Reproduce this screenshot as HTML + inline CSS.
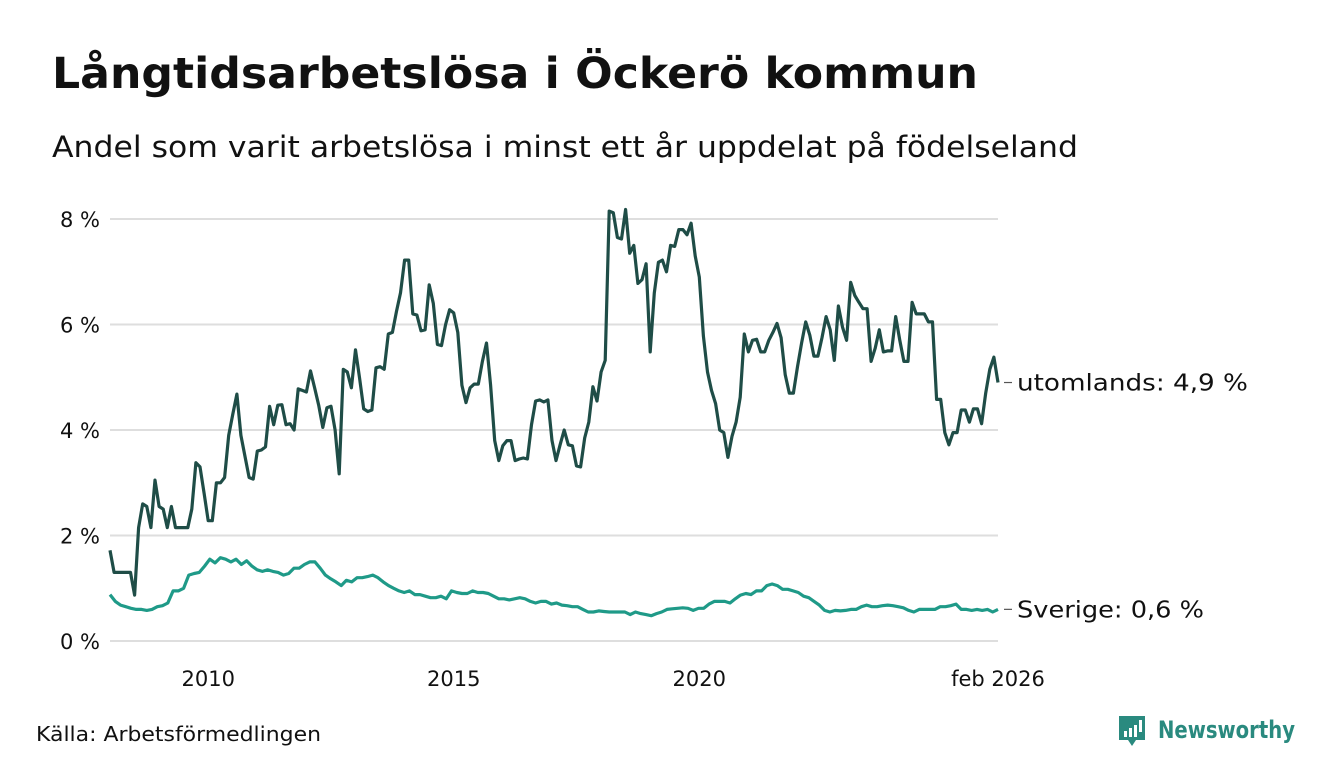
<!DOCTYPE html>
<html><head><meta charset="utf-8">
<style>
body{margin:0;background:#fff;font-family:"DejaVu Sans","Liberation Sans",sans-serif;}
#wrap{position:relative;width:1340px;height:780px;overflow:hidden;background:#fff;}
</style></head>
<body>
<div id="wrap">
<svg id="chart" width="1340" height="780" font-family="DejaVu Sans, Liberation Sans, sans-serif">
<text x="52" y="88" font-size="43" font-weight="bold" fill="#111" textLength="926" lengthAdjust="spacingAndGlyphs">Långtidsarbetslösa i Öckerö kommun</text>
<text x="52" y="157" font-size="29" fill="#111" textLength="1026" lengthAdjust="spacingAndGlyphs">Andel som varit arbetslösa i minst ett år uppdelat på födelseland</text>
<g id="grid"></g>
<g id="lines"></g>
<text x="36" y="741" font-size="20" fill="#111" textLength="285" lengthAdjust="spacingAndGlyphs">Källa: Arbetsförmedlingen</text>
<g>
<path d="M1119 716 h26 v24 h-9 l-4 6 l-4 -6 h-9 z" fill="#2a8a7f"/>
<rect x="1124" y="731" width="3" height="6" fill="#fff"/>
<rect x="1129" y="728" width="3" height="9" fill="#fff"/>
<rect x="1134" y="725" width="3" height="12" fill="#fff"/>
<rect x="1139" y="720" width="3" height="12" fill="#fff"/>
<text x="1158" y="738" font-size="24" font-weight="bold" fill="#2a8a7f" textLength="137" lengthAdjust="spacingAndGlyphs">Newsworthy</text>
</g>
</svg>
</div>
<script>
const yTicks=[0,2,4,6,8];
const yTickLabels=["0 %","2 %","4 %","6 %","8 %"];
const xTickYears=[2010,2015,2020];
const xTickLabels=["2010","2015","2020"];
const startDate=2008.0;
const endDate=2026+1/12;
const endLabel="feb 2026";
const seriesNames=["utomlands","Sverige"];
const utomlands=[1.72,1.3,1.3,1.3,1.3,1.3,0.87,2.15,2.6,2.55,2.15,
3.05,2.55,2.5,2.15,2.55,2.15,2.15,2.15,2.15,2.5,3.38,3.3,2.8,2.28,2.28,3.0,3.0,3.1,3.9,4.3,4.68,3.9,3.5,3.1,3.07,3.6,3.62,3.68,4.45,4.1,4.47,4.48,4.1,4.12,4.0,4.78,4.75,4.72,5.12,4.8,4.47,4.05,4.42,4.45,4.0,3.17,5.15,5.1,4.8,5.52,4.98,4.4,4.35,4.38,5.18,5.2,5.15,5.82,5.85,6.25,6.6,7.22,7.22,6.2,6.18,5.88,5.9,6.75,6.4,5.62,5.6,6.0,6.28,6.22,5.85,4.85,4.52,4.8,4.87,4.87,5.3,5.65,4.85,3.8,3.42,3.7,3.8,3.8,3.42,3.45,3.47,3.45,4.1,4.55,4.57,4.53,4.57,3.8,3.42,3.72,4.0,3.72,3.7,3.32,3.3,3.85,4.15,4.82,4.55,5.1,5.32,8.15,8.12,7.65,7.62,8.18,7.35,7.5,6.78,6.85,7.15,5.48,6.6,7.18,7.22,7.0,7.5,7.48,7.8,7.8,7.7,7.92,7.3,6.9,5.78,5.1,4.75,4.5,4.0,3.95,3.48,3.88,4.15,4.62,5.82,5.48,5.7,5.72,5.48,5.48,5.7,5.85,6.02,5.75,5.05,4.7,4.7,5.2,5.65,6.05,5.8,5.4,5.4,5.75,6.15,5.9,5.32,6.35,5.95,5.7,6.8,6.55,6.42,6.3,6.3,5.3,5.55,5.9,5.48,5.5,5.5,6.15,5.7,5.3,5.3,6.42,6.2,6.2,6.2,6.05,6.05,4.58,4.58,3.95,3.72,3.95,3.95,4.38,4.38,4.15,4.4,4.4,4.12,4.7,5.15,5.38,4.9];
const sverige=[0.88,0.75,0.68,0.65,0.62,0.6,0.6,0.58,0.6,0.65,0.67,0.72,0.95,0.95,1.0,1.25,1.28,1.3,1.42,1.55,1.48,1.58,1.55,1.5,1.55,1.45,1.52,1.42,1.35,1.32,1.35,1.32,1.3,1.25,1.28,1.38,1.38,1.45,1.5,1.5,1.38,1.25,1.18,1.12,1.05,1.15,1.12,1.2,1.2,1.22,1.25,1.2,1.12,1.05,1.0,0.95,0.92,0.95,0.88,0.88,0.85,0.82,0.82,0.85,0.8,0.95,0.92,0.9,0.9,0.95,0.92,0.92,0.9,0.85,0.8,0.8,0.78,0.8,0.82,0.8,0.75,0.72,0.75,0.75,0.7,0.72,0.68,0.67,0.65,0.65,0.6,0.55,0.55,0.57,0.56,0.55,0.55,0.55,0.55,0.5,0.55,0.52,0.5,0.48,0.52,0.55,0.6,0.61,0.62,0.63,0.62,0.58,0.62,0.62,0.7,0.75,0.75,0.75,0.72,0.8,0.87,0.9,0.88,0.95,0.95,1.05,1.08,1.05,0.98,0.98,0.95,0.92,0.85,0.82,0.75,0.68,0.58,0.55,0.58,0.57,0.58,0.6,0.6,0.65,0.68,0.65,0.65,0.67,0.68,0.67,0.65,0.63,0.58,0.55,0.6,0.6,0.6,0.6,0.65,0.65,0.67,0.7,0.6,0.6,0.58,0.6,0.58,0.6,0.55,0.6];
const endValueLabels=["utomlands: 4,9 %","Sverige: 0,6 %"];
const endLabelWidths=[231,187];

const X0=110,X1=998,Y0=641,PER=52.75;
const xs=t=>X0+(t-startDate)/(endDate-startDate)*(X1-X0);
const ys=v=>Y0-v*PER;
const NS="http://www.w3.org/2000/svg";
function mk(tag,attrs,parent){const e=document.createElementNS(NS,tag);for(const k in attrs)e.setAttribute(k,attrs[k]);parent.appendChild(e);return e;}
const grid=document.getElementById('grid'),lines=document.getElementById('lines');
yTicks.forEach((v,i)=>{
  const l=mk('line',{x1:X0,x2:X1,y1:ys(v),y2:ys(v),stroke:'#dedede','stroke-width':2},grid);
  
  
  const t=mk('text',{x:100,y:ys(v)+8,'text-anchor':'end','font-size':21,fill:'#111'},grid);
  t.textContent=yTickLabels[i];
  
  
});
xTickYears.forEach((yr,i)=>{
  const t=mk('text',{x:xs(yr),y:686,'text-anchor':'middle','font-size':21,fill:'#111'},grid);
  t.textContent=xTickLabels[i];
  
  
});
const te=mk('text',{x:xs(endDate),y:686,'text-anchor':'middle','font-size':21,fill:'#111'},grid);
te.textContent=endLabel;


function draw(arr,color,name,label,w){
  const n=arr.length;
  const pts=arr.map((v,i)=>xs(startDate+i*(endDate-startDate)/(n-1)).toFixed(1)+','+ys(v).toFixed(1)).join(' ');
  const p=mk('polyline',{points:pts,fill:'none',stroke:color,'stroke-width':3.2,'stroke-linejoin':'round'},lines);
  
  
  const yv=ys(arr[n-1]);
  const tk=mk('line',{x1:X1+6,x2:X1+14,y1:yv,y2:yv,stroke:'#555','stroke-width':1.2},lines);
  
  
  const t=mk('text',{x:X1+19,y:yv+8,'font-size':23,fill:'#111',textLength:w,lengthAdjust:'spacingAndGlyphs'},lines);
  t.textContent=label;
  
  
}
draw(sverige,'#1f9a88',seriesNames[1],endValueLabels[1],endLabelWidths[1]);
draw(utomlands,'#1f4d47',seriesNames[0],endValueLabels[0],endLabelWidths[0]);
</script>
</body></html>
